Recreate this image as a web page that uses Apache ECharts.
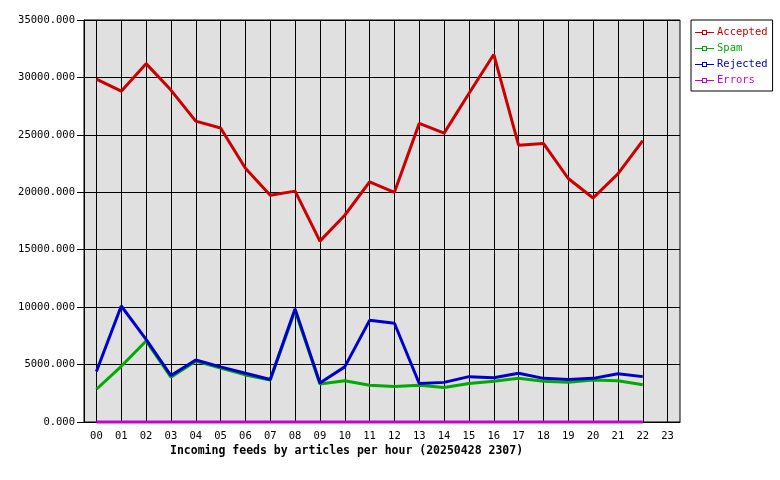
<!DOCTYPE html>
<html>
<head>
<meta charset="utf-8">
<script src="https://cdn.jsdelivr.net/npm/echarts@6/dist/echarts.min.js"></script>
<style>
  html, body { margin: 0; padding: 0; background: #fff; }
  #chart { width: 780px; height: 480px; }
</style>
</head>
<body>
<div id="chart"></div>
<script>
// hours on the x axis (23 has no data yet)
const hours = ['00','01','02','03','04','05','06','07','08','09','10','11',
               '12','13','14','15','16','17','18','19','20','21','22','23'];
// y axis ticks
const yTicks = [0, 5000, 10000, 15000, 20000, 25000, 30000, 35000];

const accepted = [29850, 28800, 31200, 28900, 26200, 25600, 22100, 19750, 20100, 15750, 18000, 20900,
                  20000, 26000, 25150, 28600, 32000, 24100, 24250, 21200, 19500, 21600, 24500];
const spam     = [2850, 4850, 7050, 3900, 5300, 4700, 4100, 3650, 9700, 3300, 3600, 3200,
                  3100, 3200, 3000, 3350, 3550, 3800, 3550, 3450, 3650, 3600, 3250];
const rejected = [4400, 10100, 7200, 4050, 5400, 4800, 4250, 3700, 9850, 3400, 4800, 8850,
                  8600, 3350, 3450, 3950, 3850, 4250, 3800, 3700, 3800, 4200, 3950];
const errors   = [0, 0, 0, 0, 0, 0, 0, 0, 0, 0, 0, 0,
                  0, 0, 0, 0, 0, 0, 0, 0, 0, 0, 0];

const names  = ['Accepted', 'Spam', 'Rejected', 'Errors'];
const colors = ['#cc0000', '#00aa00', '#0000cc', '#cc00cc'];
const values = [accepted, spam, rejected, errors];

const mono = '"DejaVu Sans Mono", monospace';
// legend icon: short line with a small square in the middle
const legendIcon = 'path://M0,4h7v-2h5v5h-5v-2h-7zM8,3v3h3v-3zM12,4h7v1h-7z';

const chart = echarts.init(document.getElementById('chart'), null, { renderer: 'canvas' });

const option = {
  animation: false,
  backgroundColor: '#ffffff',
  title: {
    text: 'Incoming feeds by articles per hour (20250428 2307)',
    left: 170,
    top: 445,
    padding: 0,
    textStyle: { fontFamily: mono, fontSize: 11.5, fontWeight: 'bold', color: '#000' }
  },
  legend: {
    orient: 'vertical',
    left: 691,
    top: 20,
    padding: [7, 5, 5, 4],
    itemWidth: 19,
    itemHeight: 10,
    itemGap: 5,
    borderColor: '#000',
    borderWidth: 1,
    backgroundColor: '#fff',
    icon: legendIcon,
    textStyle: { fontFamily: mono, fontSize: 10.5, padding: [0, 0, 0, -2] },
    data: names.map((n, i) => ({ name: n, textStyle: { color: colors[i] } }))
  },
  grid: {
    show: true,
    left: 84,
    right: 100,
    top: 20,
    bottom: 58,
    backgroundColor: '#e0e0e0',
    borderColor: '#000',
    borderWidth: 1,
    containLabel: false
  },
  xAxis: {
    type: 'category',
    data: hours,
    boundaryGap: true,
    axisLine: { lineStyle: { color: '#000', width: 1 } },
    axisTick: { show: false, alignWithLabel: true },
    axisLabel: { fontFamily: mono, fontSize: 10.5, color: '#000', margin: 9, interval: 0 },
    splitLine: { show: true, alignWithLabel: true, lineStyle: { color: '#000', width: 1 } }
  },
  yAxis: {
    type: 'value',
    min: yTicks[0],
    max: yTicks[yTicks.length - 1],
    interval: yTicks[1] - yTicks[0],
    axisLine: { show: true, lineStyle: { color: '#000', width: 1 } },
    axisTick: { show: true, length: 7, lineStyle: { color: '#000' } },
    axisLabel: {
      fontFamily: mono, fontSize: 10.5, color: '#000', margin: 9,
      formatter: v => v.toFixed(3)
    },
    splitLine: { show: true, lineStyle: { color: '#000', width: 1 } }
  },
  series: names.map((n, i) => ({
    name: n,
    type: 'line',
    data: values[i],
    color: colors[i],
    symbol: 'none',
    clip: i !== 3,
    lineStyle: { width: 3, color: colors[i] }
  }))
};

chart.setOption(option);
</script>
</body>
</html>
